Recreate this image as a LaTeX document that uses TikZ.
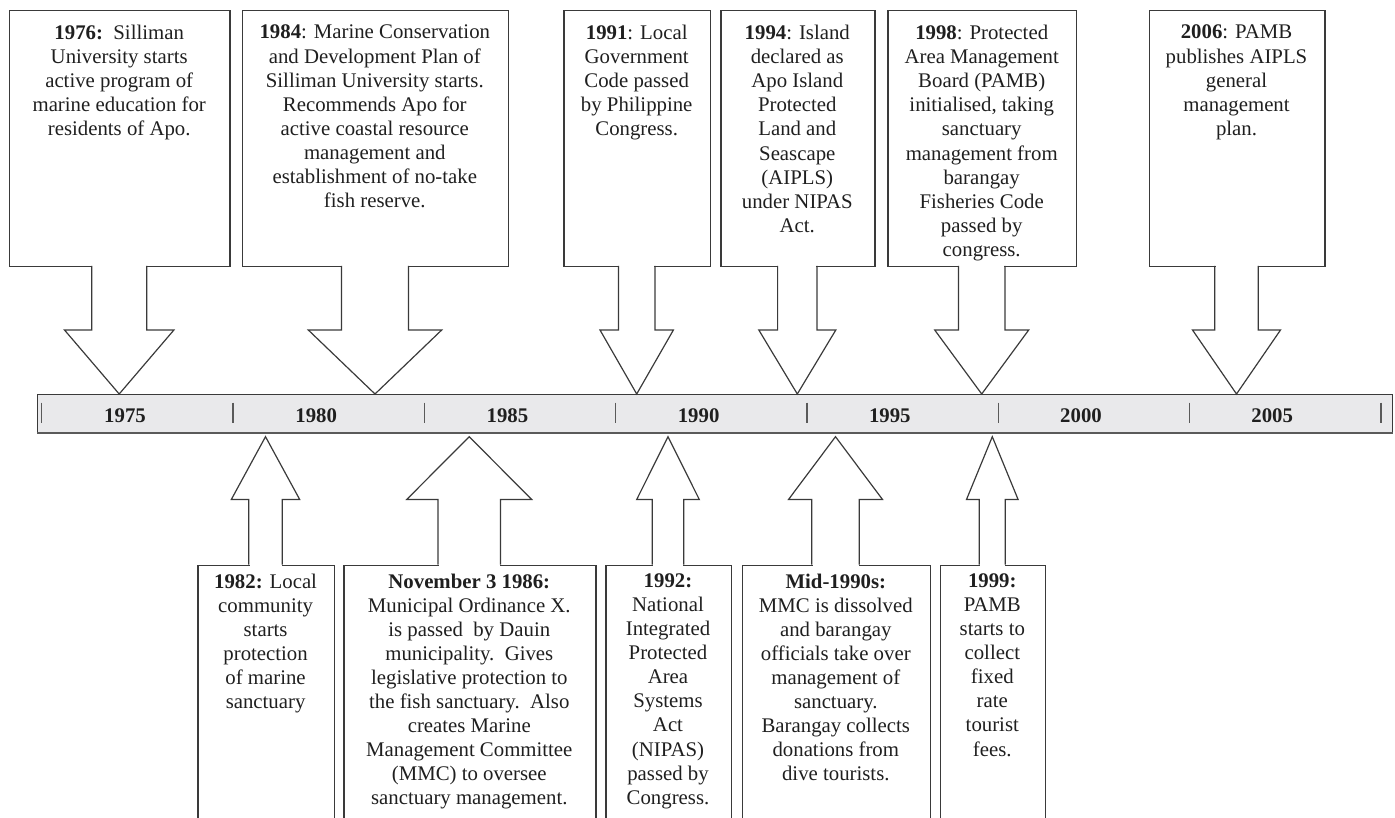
\documentclass[tikz,border=0pt]{standalone}
\usepackage{fontspec}
\setmainfont{Liberation Serif}
\definecolor{linec}{HTML}{3A3A3A}
\definecolor{barfill}{HTML}{E9E9EB}
\definecolor{tickc}{HTML}{5A5A5A}
\tikzset{
  outl/.style={draw=linec, line width=1.2pt, line join=miter},
  callbox/.style={outl, inner sep=0pt, anchor=north west},
  txt/.style={align=center, inner sep=0pt, anchor=north, text=black!88,
              font=\fontsize{20.8}{24.1}\selectfont},
  yr/.style={inner sep=0pt, anchor=base, text=black!88,
             font=\fontsize{20.8}{24.1}\selectfont\bfseries},
  tickline/.style={draw=tickc, line width=1.4pt},
}
% cx, stem half width, wing half width, y at box edge, y at wings, y at tip
\newcommand\callarrow[6]{%
  \fill[white] ({#1-#2+0.7},{#4-1.6}) rectangle ({#1+#2-0.7},{#4+1.6});
  \draw[outl] ({#1-#2},#4) -- ({#1-#2},#5) -- ({#1-#3},#5) -- (#1,#6)
     -- ({#1+#3},#5) -- ({#1+#2},#5) -- ({#1+#2},#4);
}
\begin{document}
\begin{tikzpicture}[x=1pt,y=-1pt]
\useasboundingbox (0,0) rectangle (1395,818);
\clip (0,0) rectangle (1395,818);

% ---- timeline bar ----
\node[draw=linec, line width=1pt, fill=barfill, inner sep=0pt, anchor=north west,
      minimum width=1355pt, minimum height=37.7pt] (bar) at (37.3,394) {};
\draw[draw=tickc, line width=2.4pt] (bar.south west) -- (bar.south east);
\foreach \i in {0,...,7}
  \draw[tickline] ({41.7+191.3*\i},402.7) -- ++(0,20);
\foreach \y [count=\i from 0] in {1975,1980,...,2005}
  \node[yr] (y\y) at ({125+191.2*\i},422.3) {\y};

% ---- top callouts ----
\node[callbox, minimum width=220.3pt, minimum height=256pt] (b1976) at (9,10) {};
\node[callbox, minimum width=265.7pt, minimum height=256pt] (b1984) at (242,10) {};
\node[callbox, minimum width=146.7pt, minimum height=256pt] (b1991) at (563.3,10) {};
\node[callbox, minimum width=154pt,   minimum height=256pt] (b1994) at (720.3,10) {};
\node[callbox, minimum width=188.7pt, minimum height=256pt] (b1998) at (887.3,10) {};
\node[callbox, minimum width=175.6pt, minimum height=256pt] (b2006) at (1148.7,10) {};

\callarrow{119.2}{27.5}{54.7}{266}{330}{394}
\callarrow{375}{33.5}{66.7}{266}{330}{394}
\callarrow{636.7}{18.3}{36.7}{266}{330}{394}
\callarrow{797.3}{19.7}{38.5}{266}{330}{394}
\callarrow{981.7}{23.3}{47}{266}{330}{394}
\callarrow{1236.5}{21.7}{44}{266}{330}{394}

\node[txt] (t1976) at (119.2,24.9) {\textbf{1976:}\ \ Silliman\\University starts\\active program of\\marine education for\\residents of Apo.};
\node[txt] (t1984) at (374.8,24.9) {\textbf{1984}: Marine Conservation\\and Development Plan of\\Silliman University starts.\\Recommends Apo for\\active coastal resource\\management and\\establishment of no-take\\fish reserve.};
\node[txt] (t1991) at (636.7,24.9) {\textbf{1991}: Local\\Government\\Code passed\\by Philippine\\Congress.};
\node[txt] (t1994) at (797.3,24.9) {\textbf{1994}: Island\\declared as\\Apo Island\\Protected\\Land and\\Seascape\\(AIPLS)\\under NIPAS\\Act.};
\node[txt] (t1998) at (981.7,24.9) {\textbf{1998}: Protected\\Area Management\\Board (PAMB)\\initialised, taking\\sanctuary\\management from\\barangay\\Fisheries Code\\passed by\\congress.};
\node[txt] (t2006) at (1236.5,24.9) {\textbf{2006}: PAMB\\publishes AIPLS\\general\\management\\plan.};

% ---- bottom callouts ----
\node[callbox, minimum width=136.7pt, minimum height=300pt] (b1982) at (197.3,564.5) {};
\node[callbox, minimum width=252pt,   minimum height=300pt] (b1986) at (343.3,564.5) {};
\node[callbox, minimum width=125.4pt, minimum height=300pt] (b1992) at (605.3,564.5) {};
\node[callbox, minimum width=188.3pt, minimum height=300pt] (bmid)  at (741.7,564.5) {};
\node[callbox, minimum width=104.7pt, minimum height=300pt] (b1999) at (940,564.5) {};

\callarrow{265.5}{16.7}{34.2}{564.5}{499.5}{436.7}
\callarrow{469.2}{31.2}{62.5}{564.5}{499.5}{436.7}
\callarrow{668}{15.7}{31.3}{564.5}{499.5}{436.7}
\callarrow{835.5}{23.7}{47}{564.5}{499.5}{436.7}
\callarrow{992.3}{13}{25.8}{564.5}{499.5}{436.7}

\node[txt] (t1982) at (265.6,573.4) {\textbf{1982:} Local\\community\\starts\\protection\\of marine\\sanctuary};
\node[txt] (t1986) at (469.3,573.4) {\textbf{November 3 1986:}\\Municipal Ordinance X.\\is passed\ \ by Dauin\\municipality.\ \ Gives\\legislative protection to\\the fish sanctuary.\ \ Also\\creates Marine\\Management Committee\\(MMC) to oversee\\sanctuary management.};
\node[txt] (t1992) at (668,573.4) {\textbf{1992:}\\National\\Integrated\\Protected\\Area\\Systems\\Act\\(NIPAS)\\passed by\\Congress.};
\node[txt] (tmid) at (835.8,573.4) {\textbf{Mid-1990s:}\\MMC is dissolved\\and barangay\\officials take over\\management of\\sanctuary.\\Barangay collects\\donations from\\dive tourists.};
\node[txt] (t1999) at (992.3,573.4) {\textbf{1999:}\\PAMB\\starts to\\collect\\fixed\\rate\\tourist\\fees.};
\end{tikzpicture}
\end{document}
